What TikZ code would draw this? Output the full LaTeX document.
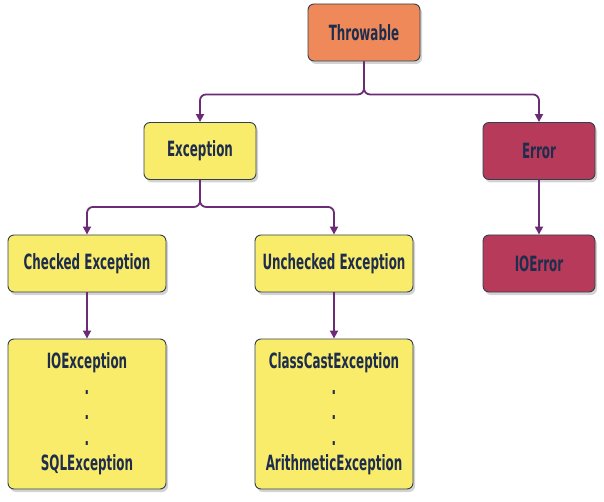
\documentclass[tikz,border=0pt]{standalone}
\usepackage{fontspec}
\setmainfont{DejaVu Sans Condensed}[BoldFont={DejaVu Sans Condensed Bold},FakeStretch=0.63]
\usetikzlibrary{arrows.meta,shadows}
\definecolor{throwcol}{HTML}{F0895A}
\definecolor{exccol}{HTML}{F9EC6B}
\definecolor{errcol}{HTML}{B83A5A}
\definecolor{inkcol}{HTML}{1F2D4D}
\definecolor{edgecol}{HTML}{2F4050}
\definecolor{linkcol}{HTML}{6B2C75}
\begin{document}
\begin{tikzpicture}[x=1pt,y=-1pt,
    box/.style={draw=edgecol,line width=0.9pt,rounded corners=6pt,
      minimum height=57pt,text=inkcol,align=center,inner xsep=2pt,
      font=\fontsize{21}{25.5}\selectfont\bfseries,
      drop shadow={shadow xshift=2pt,shadow yshift=-3pt,opacity=0.35}},
    small/.style={box,minimum width=112pt},
    wide/.style={box,minimum width=158pt},
    link/.style={draw=linkcol,line width=1.8pt,rounded corners=6pt,
      -{Triangle[width=8pt,length=8pt]}}]
  \useasboundingbox (0,0) rectangle (604,502);
  \node[small,fill=throwcol] (thr) at (364,32.5) {Throwable};
  \node[small,fill=exccol] (exc) at (200,151) {Exception};
  \node[small,fill=errcol] (err) at (539,151) {Error};
  \node[wide,fill=exccol] (chk) at (87,263.5) {Checked Exception};
  \node[wide,fill=exccol] (unc) at (334,263.5) {Unchecked Exception};
  \node[small,fill=errcol] (ioerr) at (539,263.5) {IOError};
  \node[wide,fill=exccol,minimum height=150pt] (chklist) at (87,414)
    {IOException\\.\\.\\.\\SQLException};
  \node[wide,fill=exccol,minimum height=150pt] (unclist) at (334,414)
    {ClassCastException\\.\\.\\.\\ArithmeticException};
  \begin{scope}[link]
    \draw (thr.south) -- ++(0,33) -| (exc.north);
    \draw (thr.south) -- ++(0,33) -| (err.north);
    \draw (exc.south) -- ++(0,27) -| (chk.north);
    \draw (exc.south) -- ++(0,27) -| (unc.north);
    \draw (err) -- (ioerr);
    \draw (chk) -- (chklist);
    \draw (unc) -- (unclist);
  \end{scope}
\end{tikzpicture}
\end{document}
